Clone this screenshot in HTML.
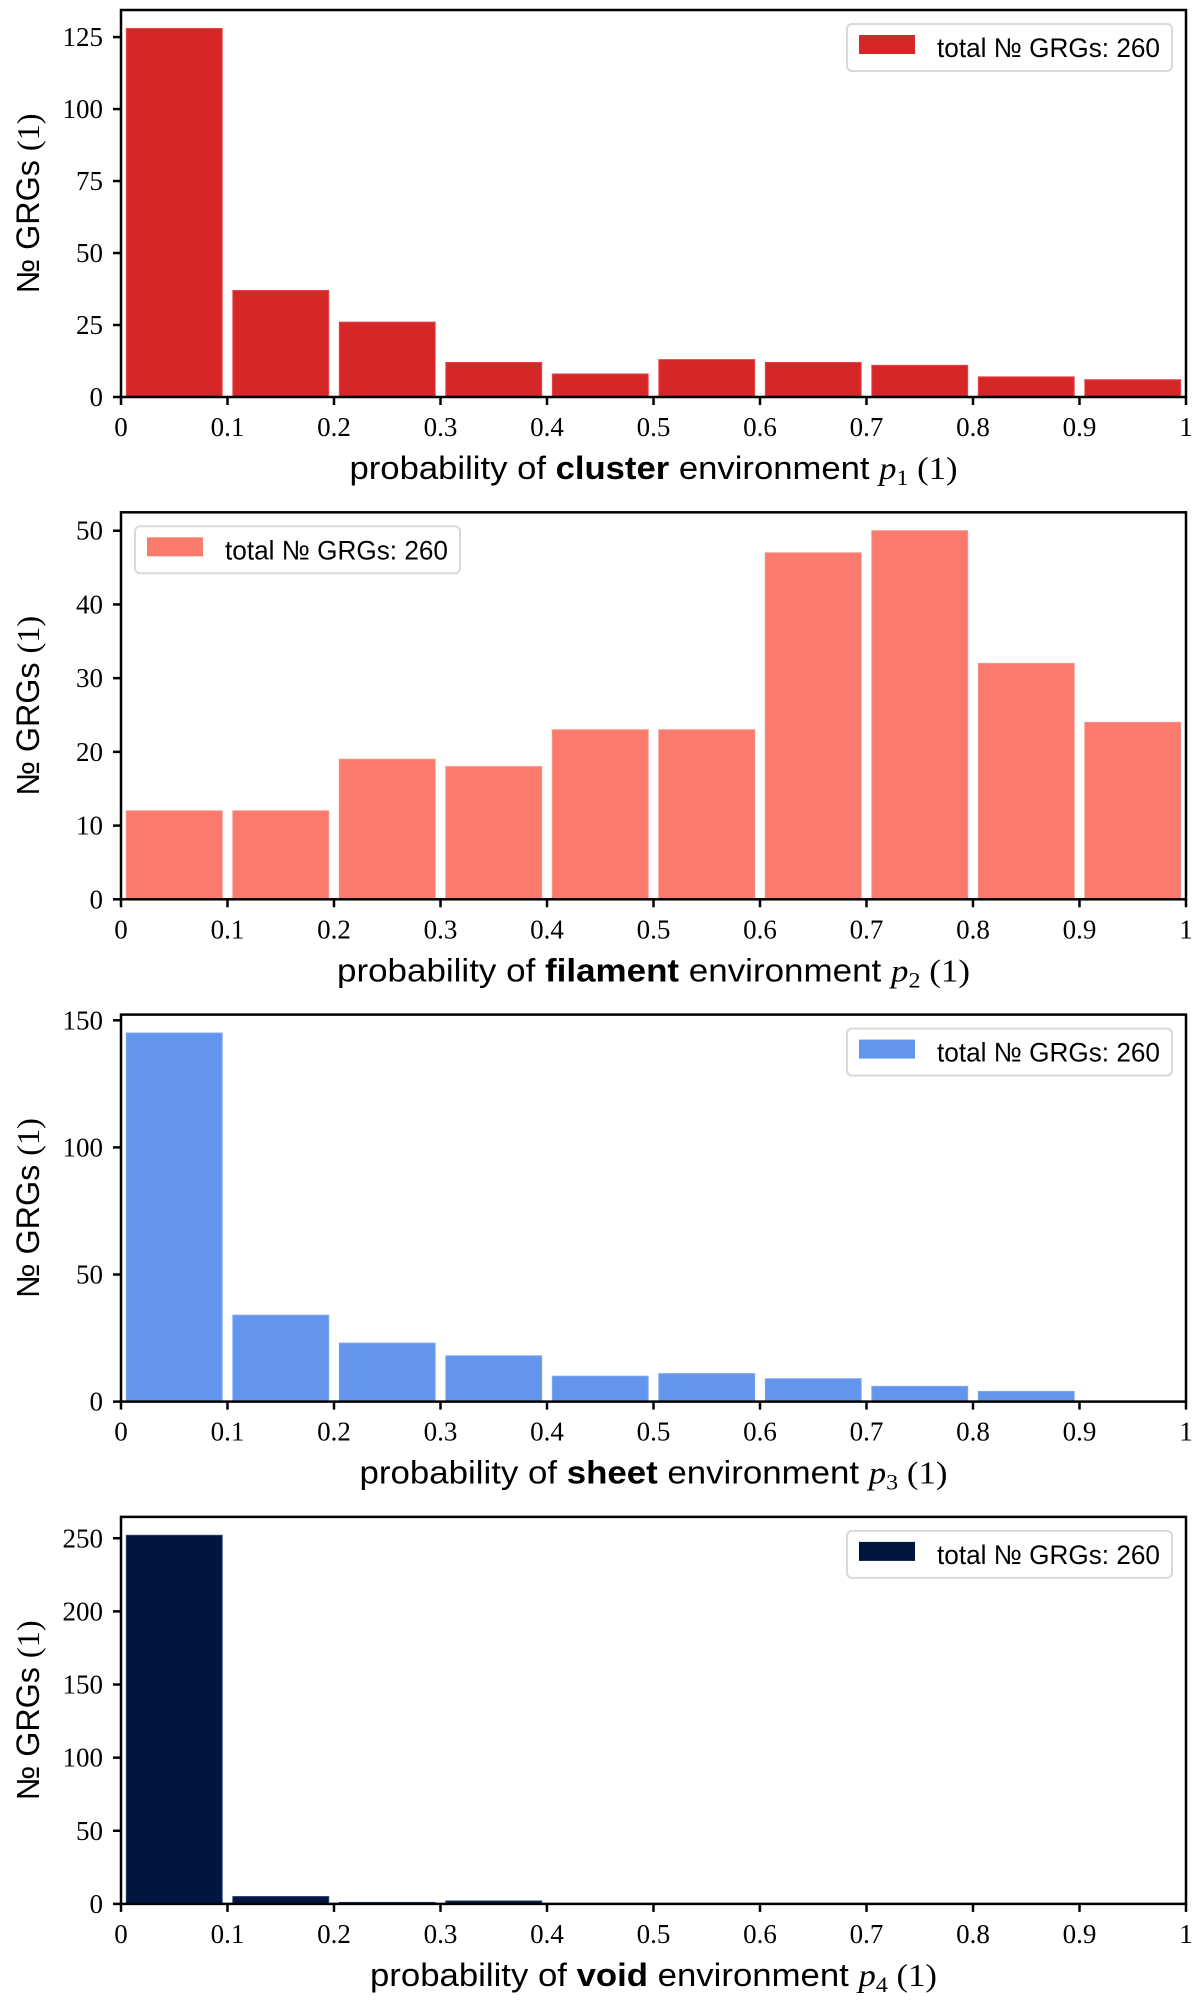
<!DOCTYPE html>
<html><head><meta charset="utf-8"><style>
body{margin:0;background:#fff;}
svg{display:block;}
.tick{font-family:"Liberation Serif",serif;font-size:27px;fill:#000;}
.lab{font-family:"Liberation Sans",sans-serif;font-size:32px;fill:#000;}
.leg{font-family:"Liberation Sans",sans-serif;font-size:27px;fill:#000;}
</style></head><body>
<svg id="fig" width="1200" height="2007" viewBox="0 0 1200 2007" xmlns="http://www.w3.org/2000/svg"></svg>
<script>
const binEdges = [0,0.1,0.2,0.3,0.4,0.5,0.6,0.7,0.8,0.9,1.0];
const xTickLabels = ["0","0.1","0.2","0.3","0.4","0.5","0.6","0.7","0.8","0.9","1"];
const clusterCounts = [128,37,26,12,8,13,12,11,7,6];
const filamentCounts = [12,12,19,18,23,23,47,50,32,24];
const sheetCounts = [145,34,23,18,10,11,9,6,4,0];
const voidCounts = [252,5,1,2,0,0,0,0,0,0];
const clusterYTicks = [0,25,50,75,100,125];
const filamentYTicks = [0,10,20,30,40,50];
const sheetYTicks = [0,50,100,150];
const voidYTicks = [0,50,100,150,200,250];
const envNames = ["cluster","filament","sheet","void"];
const legendText = "total № GRGs: 260";

const NS="http://www.w3.org/2000/svg";
const svg=document.getElementById('fig');
function mk(tag,attrs,parent){const e=document.createElementNS(NS,tag);for(const k in attrs)e.setAttribute(k,attrs[k]);(parent||svg).appendChild(e);return e;}

const panels=[
 {counts:clusterCounts,ticks:clusterYTicks,color:"#d62728",edge:"#e8474a",legRight:true,lw:608},
 {counts:filamentCounts,ticks:filamentYTicks,color:"#fa7a6e",edge:"#fb8f84",legRight:false,lw:633},
 {counts:sheetCounts,ticks:sheetYTicks,color:"#6495ed",edge:"#7aa6f0",legRight:true,lw:588},
 {counts:voidCounts,ticks:voidYTicks,color:"#00163f",edge:"#243a66",legRight:true,lw:567}
];
const L=121,R=1186,H=387,step=502.3;
panels.forEach((p,i)=>{
  const top=10+i*step, bot=top+H;
  const ymax=Math.max(...p.counts)*1.05;
  const xs=v=>L+v*(R-L);
  const ys=v=>bot-v/ymax*H;
  const g=mk('g',{});
  
  
  p.counts.forEach((c,j)=>{
    if(c<=0)return;
    const w=binEdges[j+1]-binEdges[j];
    const x0=xs(binEdges[j]+w*0.05), x1=xs(binEdges[j+1]-w*0.05);
    const r=mk('rect',{x:x0,y:ys(c),width:x1-x0,height:bot-ys(c),fill:p.color,stroke:p.edge,'stroke-width':1},g);
    
    
  });
  const fr=mk('rect',{x:L,y:top,width:R-L,height:H,fill:'none',stroke:'#000','stroke-width':2.5},g);
  
  
  binEdges.forEach((v,j)=>{
    mk('line',{x1:xs(v),x2:xs(v),y1:bot,y2:bot+8,stroke:'#000','stroke-width':2.5},g);
    const t=mk('text',{x:xs(v),y:bot+39,'text-anchor':'middle',class:'tick'},g);
    t.textContent=xTickLabels[j];
    
    
  });
  p.ticks.forEach(v=>{
    mk('line',{x1:L-8,x2:L,y1:ys(v),y2:ys(v),stroke:'#000','stroke-width':2.5},g);
    const t=mk('text',{x:L-18,y:ys(v)+9,'text-anchor':'end',class:'tick'},g);
    t.textContent=v;
    
    
  });
  const yl=mk('text',{x:0,y:0,'text-anchor':'middle',class:'lab',textLength:180,lengthAdjust:'spacingAndGlyphs',transform:`translate(39,${(top+bot)/2}) rotate(-90)`},g);
  yl.innerHTML='№ GRGs <tspan font-family="Liberation Serif, serif">(1)</tspan>';
  
  
  const xl=mk('text',{x:(L+R)/2,y:bot+82,'text-anchor':'middle',class:'lab',textLength:p.lw,lengthAdjust:'spacingAndGlyphs'},g);
  xl.innerHTML='probability of <tspan font-weight="bold">'+envNames[i]+'</tspan> environment <tspan font-family="Liberation Serif, serif" font-style="italic">p</tspan><tspan font-family="Liberation Serif, serif" font-size="22" dy="6">'+(i+1)+'</tspan><tspan font-family="Liberation Serif, serif" dy="-6"> (1)</tspan>';
  
  
  const lx=p.legRight?847:135, ly=top+14;
  const lg=mk('g',{},g);
  
  
  mk('rect',{x:lx,y:ly,width:325,height:47,rx:5,fill:'#fff',stroke:'#d9d9d9','stroke-width':2},lg);
  mk('rect',{x:lx+12,y:ly+11,width:56,height:19,fill:p.color},lg);
  const lt=mk('text',{x:lx+90,y:ly+33,class:'leg',textLength:223,lengthAdjust:'spacingAndGlyphs'},lg);
  lt.textContent=legendText;
  
  
});
</script>
</body></html>
